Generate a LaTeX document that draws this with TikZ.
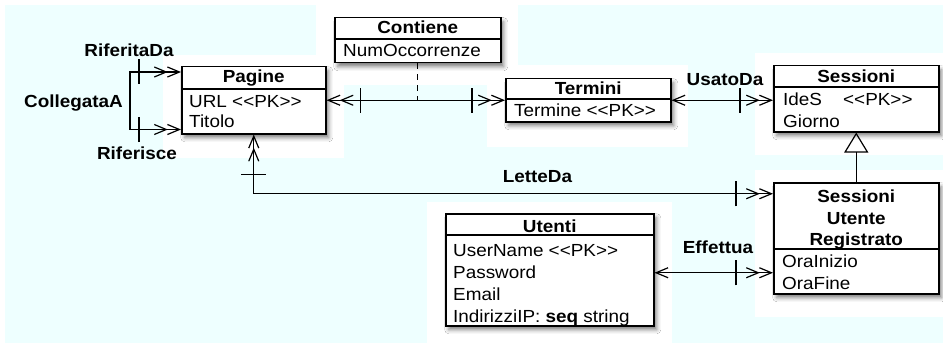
\documentclass[tikz,border=0pt]{standalone}
\usepackage{fontspec}
\setmainfont{Liberation Sans}[FakeStretch=1.08]
\usetikzlibrary{arrows.meta,decorations.markings,shadows.blur}
\definecolor{paper}{RGB}{238,255,255}
\newcommand\umlfont{\fontsize{17.5}{21}\selectfont}
\newcommand\umltick{\draw[-,solid,line width=1.2pt] (0pt,-12.5pt) -- (0pt,12.5pt);}
\newcommand\pkmark{<\kern0pt<PK>\kern0pt>}

\begin{document}
\begin{tikzpicture}[x=1pt,y=-1pt,
  cls/.style={draw, line width=1.5pt, fill=white, inner sep=0pt, anchor=north west,
    blur shadow={shadow xshift=3pt, shadow yshift=-4pt, shadow blur radius=4pt, shadow opacity=50}},
  divider/.style={line width=1.5pt},
  txt/.style={inner sep=0pt, anchor=base west, font=\umlfont},
  hdr/.style={inner sep=0pt, anchor=base, font=\umlfont\bfseries},
  lbl/.style={inner sep=0pt, anchor=base, font=\umlfont\bfseries},
  conn/.style={line width=1.2pt},
  crossbar/.style={postaction={decorate,decoration={markings,mark=at position #1 with {\umltick}}}},
  Sgl/.tip={Straight Barb[length=12pt,width=10pt]},
  Dbl/.tip={Straight Barb[length=12pt,width=10pt,sep=-1pt] Straight Barb[length=12pt,width=10pt]},
]
\useasboundingbox (0,0) rectangle (943,345);
% canvas: pale cyan sheet with white areas behind the classes
\fill[white] (0,0) rectangle (943,345);
\fill[paper] (5,5) rectangle (943,343);
\fill[white] (316,0) rectangle (518,85);
\fill[white] (163,55) rectangle (344,158);
\fill[white] (487,65) rectangle (688,147);
\fill[white] (755,53) rectangle (943,155);
\fill[white] (755,170) rectangle (943,317);
\fill[white] (427,202) rectangle (672,345);

% classes
\node[cls, minimum width=144pt, minimum height=67pt] (pag) at (181,66) {};
\node[cls, minimum width=166pt, minimum height=45pt] (con) at (334,17) {};
\node[cls, minimum width=165pt, minimum height=43pt] (ter) at (505,78) {};
\node[cls, minimum width=165pt, minimum height=66pt] (ses) at (773,65) {};
\node[cls, minimum width=165pt, minimum height=111pt] (sur) at (773,182) {};
\node[cls, minimum width=208pt, minimum height=112pt] (ute) at (445,213) {};

\draw[divider] (pag.west |- 0,89) -- (pag.east |- 0,89);
\draw[divider] (con.west |- 0,39) -- (con.east |- 0,39);
\draw[divider] (ter.west |- 0,99) -- (ter.east |- 0,99);
\draw[divider] (ses.west |- 0,87) -- (ses.east |- 0,87);
\draw[divider] (sur.west |- 0,249) -- (sur.east |- 0,249);
\draw[divider] (ute.west |- 0,235) -- (ute.east |- 0,235);

% class names
\node[hdr] (pagH) at (pag.north |- 0,83) {Pagine};
\node[hdr] (conH) at (con.north |- 0,34) {Contiene};
\node[hdr] (terH) at (ter.north |- 0,95) {Termini};
\node[hdr] (sesH) at (ses.north |- 0,82) {Sessioni};
\node[hdr] (surH1) at (sur.north |- 0,202) {Sessioni};
\node[hdr] (surH2) at (sur.north |- 0,224) {Utente};
\node[hdr] (surH3) at (sur.north |- 0,245) {Registrato};
\node[hdr] (uteH) at (ute.north |- 0,232) {Utenti};

% attributes
\node[txt] (pagA) at (189,107) {URL \pkmark};
\node[txt] (pagB) at (189,127) {Titolo};
\node[txt] (conA) at (343,57) {NumOccorrenze};
\node[txt] (terA) at (514,117) {Termine \pkmark};
\node[txt] (sesA) at (783,106) {\makebox[60pt][l]{IdeS}\pkmark};
\node[txt] (sesB) at (783,127) {Giorno};
\node[txt] (surA) at (782,267) {OraInizio};
\node[txt] (surB) at (782,289) {OraFine};
\node[txt] (uteA) at (453,256) {UserName \pkmark};
\node[txt] (uteB) at (453,278) {Password};
\node[txt] (uteC) at (453,300) {Email};
\node[txt] (uteD) at (453,322) {IndirizziIP: \textbf{seq} string};

% associations
\draw[conn, Dbl-Dbl, crossbar=42pt, crossbar=-42pt]
  ([yshift=-6pt]pag.north west) -- ++(-51,0) |- ([yshift=5pt]pag.south west);
\draw[conn, Dbl-Dbl, crossbar=34pt, crossbar=-33pt] (pag.east) -- (ter.west);
\draw[conn, dash pattern=on 6pt off 5pt] (con.south) -- (con.south |- pag.east);
\draw[conn, Sgl-Dbl, crossbar=-33pt] (ter.east) -- (ter.east -| ses.west);
\draw[conn, Dbl-Dbl, crossbar=40pt, crossbar=-37pt]
  (pag.south) |- ([yshift=44.5pt]sur.west);
\draw[conn, Sgl-Dbl, crossbar=-37pt] ([yshift=-3pt]ute.east) -- ([yshift=-3pt]ute.east -| sur.west);
\draw[conn, -{Triangle[open,length=20pt,width=24pt]}] (sur.north) -- (sur.north |- ses.south);

% association names
\node[lbl] (lRif) at (129,57) {RiferitaDa};
\node[lbl] (lCol) at (73.5,107) {CollegataA};
\node[lbl] (lRis) at (137,159) {Riferisce};
\node[lbl] (lUsa) at (725,85) {UsatoDa};
\node[lbl] (lLet) at (537.5,182) {LetteDa};
\node[lbl] (lEff) at (718,253) {Effettua};
\end{tikzpicture}
\end{document}
